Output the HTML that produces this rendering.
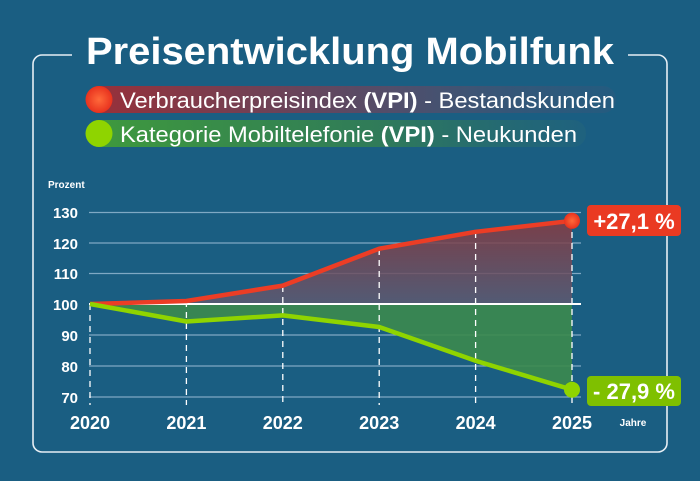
<!DOCTYPE html>
<html><head><meta charset="utf-8"><style>
html,body{margin:0;padding:0;background:#1a5e82;}
svg{display:block;font-family:"Liberation Sans",sans-serif;}
</style></head><body>
<svg width="700" height="481" viewBox="0 0 700 481" xmlns="http://www.w3.org/2000/svg">
<defs>
<linearGradient id="lr" x1="0" x2="1"><stop offset="0" stop-color="#9a2f38"/><stop offset="0.6" stop-color="#4f4f6c"/><stop offset="1" stop-color="#2a5a7e" stop-opacity="0.6"/></linearGradient>
<linearGradient id="lg" x1="0" x2="1"><stop offset="0" stop-color="#3f9a3c"/><stop offset="0.6" stop-color="#2f7a5a"/><stop offset="1" stop-color="#22647c" stop-opacity="0.6"/></linearGradient>
<linearGradient id="fr" x1="0" y1="0" x2="0" y2="1"><stop offset="0" stop-color="#8a3a40"/><stop offset="1" stop-color="#5c5a72"/></linearGradient>
<radialGradient id="cr"><stop offset="0" stop-color="#ff6a3a"/><stop offset="1" stop-color="#e8321e"/></radialGradient>
</defs>
<rect width="700" height="481" fill="#1a5e82"/>
<path d="M72,55 H42 a9,9 0 0 0 -9,9 V443 a9,9 0 0 0 9,9 H658 a9,9 0 0 0 9,-9 V64 a9,9 0 0 0 -9,-9 H628" fill="none" stroke="#e6eef4" stroke-width="1.6"/>
<text x="86" y="64" font-size="38" font-weight="bold" fill="#fff" textLength="528" lengthAdjust="spacingAndGlyphs">Preisentwicklung Mobilfunk</text>
<rect x="86" y="86" width="530" height="27" rx="13" fill="url(#lr)"/>
<circle cx="99" cy="99.5" r="13.5" fill="url(#cr)"/>
<text x="120" y="108" font-size="22" fill="#fff" textLength="495" lengthAdjust="spacingAndGlyphs">Verbraucherpreisindex <tspan font-weight="bold">(VPI)</tspan> - Bestandskunden</text>
<rect x="86" y="120" width="500" height="27" rx="13" fill="url(#lg)"/>
<circle cx="99" cy="133.5" r="13.5" fill="#8fd400"/>
<text x="120" y="142" font-size="22" fill="#fff" textLength="457" lengthAdjust="spacingAndGlyphs">Kategorie Mobiltelefonie <tspan font-weight="bold">(VPI)</tspan> - Neukunden</text>
<text x="48" y="188" font-size="10" font-weight="bold" fill="#fff">Prozent</text>
<g stroke="#7fa9c4" stroke-width="1.2">
<line x1="89" y1="212.5" x2="581" y2="212.5"/><line x1="89" y1="243" x2="581" y2="243"/><line x1="89" y1="273.5" x2="581" y2="273.5"/>
<line x1="89" y1="335" x2="581" y2="335"/><line x1="89" y1="366" x2="581" y2="366"/><line x1="89" y1="397" x2="581" y2="397"/>
</g>
<g font-size="15" font-weight="bold" fill="#fff" text-anchor="end">
<text x="78" y="218">130</text><text x="78" y="249">120</text><text x="78" y="279">110</text><text x="78" y="310">100</text><text x="78" y="341">90</text><text x="78" y="372">80</text><text x="78" y="403">70</text>
</g>
<path d="M90,304 L186.4,301 L282.8,285.6 L379.2,248.7 L475.6,231.8 L572,220.8 V304 Z" fill="url(#fr)" opacity="0.85"/>
<path d="M90,304 L186.4,321.5 L282.8,315.4 L379.2,327 L475.6,360.8 L572,389.7 V304 Z" fill="#3c8a4e" opacity="0.9"/>
<g stroke="#fff" stroke-width="1.3" stroke-dasharray="6,5">
<line x1="90" y1="304" x2="90" y2="405"/><line x1="186.4" y1="301" x2="186.4" y2="405"/><line x1="282.8" y1="286" x2="282.8" y2="405"/><line x1="379.2" y1="249" x2="379.2" y2="405"/><line x1="475.6" y1="232" x2="475.6" y2="405"/><line x1="572" y1="221" x2="572" y2="405"/>
</g>
<line x1="89" y1="304" x2="581" y2="304" stroke="#fff" stroke-width="2"/>
<polyline points="90,304 186.4,301 282.8,285.6 379.2,248.7 475.6,231.8 572,220.8" fill="none" stroke="#ec3d25" stroke-width="4.5" stroke-linejoin="round"/>
<polyline points="90,304 186.4,321.5 282.8,315.4 379.2,327 475.6,360.8 572,389.7" fill="none" stroke="#8fd400" stroke-width="4.5" stroke-linejoin="round"/>
<circle cx="572" cy="220.8" r="8" fill="url(#cr)"/>
<circle cx="572" cy="389.7" r="8" fill="#8fd400"/>
<rect x="587" y="205" width="94" height="31" rx="4" fill="#ea3a22"/>
<text x="634" y="229" text-anchor="middle" font-size="22" font-weight="bold" fill="#fff">+27,1 %</text>
<rect x="587" y="376" width="94" height="30" rx="4" fill="#7fc000"/>
<text x="634" y="399" text-anchor="middle" font-size="22" font-weight="bold" fill="#fff">- 27,9 %</text>
<g font-size="18" font-weight="bold" fill="#fff" text-anchor="middle">
<text x="90" y="429">2020</text><text x="186.4" y="429">2021</text><text x="282.8" y="429">2022</text><text x="379.2" y="429">2023</text><text x="475.6" y="429">2024</text><text x="572" y="429">2025</text>
</g>
<text x="633" y="426" text-anchor="middle" font-size="10" font-weight="bold" fill="#fff">Jahre</text>
</svg>
</body></html>
